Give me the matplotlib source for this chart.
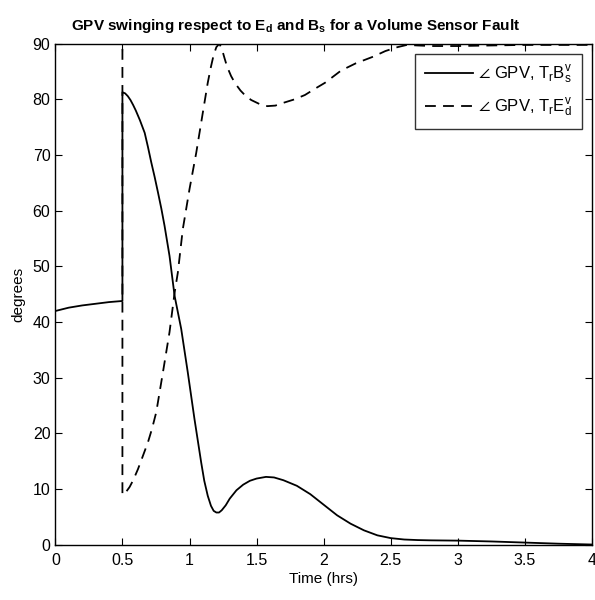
import matplotlib
matplotlib.use("Agg")
import matplotlib.pyplot as plt
import numpy as np

plt.rcParams['font.family'] = ['Liberation Sans', 'DejaVu Sans']
plt.rcParams['mathtext.fontset'] = 'custom'
plt.rcParams['mathtext.rm'] = 'Liberation Sans'
plt.rcParams['mathtext.it'] = 'Liberation Sans'
plt.rcParams['mathtext.bf'] = 'Liberation Sans:bold'
plt.rcParams['mathtext.default'] = 'regular'

# solid: angle GPV vs T_r B_s^v (step at t = 0.5)
t_solid = [0.0, 0.1, 0.2, 0.3, 0.4, 0.5, 0.5, 0.52, 0.54, 0.56, 0.58, 0.6, 0.63, 0.666,
           0.69, 0.715, 0.74, 0.765, 0.79, 0.814, 0.851, 0.889, 0.938, 0.987, 1.037,
           1.087, 1.11, 1.136, 1.16, 1.18, 1.2, 1.22, 1.24, 1.27, 1.3, 1.35, 1.4, 1.45,
           1.5, 1.57, 1.63, 1.7, 1.8, 1.9, 2.0, 2.1, 2.2, 2.3, 2.4, 2.5, 2.6, 2.7,
           2.8, 3.0, 3.25, 3.5, 3.75, 4.0]
gpv_solid = [42.0, 42.6, 43.0, 43.3, 43.6, 43.8, 81.3, 81.1, 80.6, 79.9, 79.0, 78.0, 76.3, 74.0,
             71.5, 68.7, 66.1, 63.3, 60.4, 57.3, 51.9, 44.7, 38.8, 31.0, 22.6,
             14.8, 11.5, 8.8, 7.0, 6.1, 5.8, 5.8, 6.2, 7.1, 8.3, 9.8, 10.8, 11.5,
             11.9, 12.2, 12.1, 11.6, 10.6, 9.1, 7.2, 5.3, 3.8, 2.6, 1.7, 1.2, 0.95, 0.85,
             0.8, 0.75, 0.6, 0.4, 0.2, 0.05]

# dashed: angle GPV vs T_r E_d^v
t_dash = [0.0, 0.5, 0.5, 0.512, 0.53, 0.554, 0.58, 0.616, 0.65, 0.69, 0.72, 0.752, 0.802,
          0.851, 0.889, 0.913, 0.95, 1.0, 1.05, 1.099, 1.136, 1.16, 1.18, 1.2, 1.222,
          1.24, 1.26, 1.28, 1.31, 1.34, 1.38, 1.42, 1.46, 1.52, 1.58, 1.64, 1.7, 1.78,
          1.86, 1.94, 2.01, 2.13, 2.24, 2.37, 2.46, 2.55, 2.62, 2.7, 2.8, 3.0, 3.5, 4.0]
gpv_dash = [90.0, 90.0, 9.0, 9.1, 9.6, 10.4, 11.6, 13.6, 15.8, 18.4, 20.8, 23.8, 31.0,
            38.2, 45.3, 48.9, 56.7, 63.9, 70.4, 77.6, 83.0, 85.9, 88.0, 89.4, 90.0,
            89.2, 87.5, 85.9, 84.2, 82.9, 81.6, 80.6, 79.9, 79.2, 78.8, 78.9, 79.4, 80.0,
            80.8, 82.0, 83.0, 85.2, 86.5, 87.7, 88.7, 89.4, 89.8, 89.7, 89.6, 89.6, 89.8, 89.8]

labels = [r'$\angle$ GPV, T$_r$B$^v_s$', r'$\angle$ GPV, T$_r$E$^v_d$']

fig = plt.figure(figsize=(5.95, 6.0), dpi=100)
ax = fig.add_axes([0.093, 0.092, 0.902, 0.835])

ax.plot(t_solid, gpv_solid, color='black', lw=1.3, label=labels[0])
ax.plot(t_dash, gpv_dash, color='black', lw=1.3, dashes=(6, 4), label=labels[1])

ax.set_xlim(0, 4)
ax.set_ylim(0, 90)
ax.set_xticks(np.arange(0, 4.01, 0.5))
ax.set_xticklabels(['0', '0.5', '1', '1.5', '2', '2.5', '3', '3.5', '4'])
ax.set_yticks(np.arange(0, 91, 10))
ax.tick_params(direction='in', top=True, right=True, labelsize=11.5, length=5, width=0.8)
ax.tick_params(axis='x', pad=6)
for s in ax.spines.values():
    s.set_linewidth(1.0)

ax.set_xlabel('Time (hrs)', fontsize=11, labelpad=3)
ax.set_ylabel('degrees', fontsize=11, labelpad=5)
ax.set_title(r'GPV swinging respect to E$_d$ and B$_s$ for a Volume Sensor Fault',
             fontsize=11, fontweight='bold', pad=10, x=0.447)

leg = ax.legend(loc='upper right', fontsize=12, handlelength=2.9, frameon=True,
                fancybox=False, edgecolor='black', borderaxespad=0.6, handletextpad=0.3,
                labelspacing=0.6, borderpad=0.6)
leg.get_frame().set_linewidth(1.0)

fig.savefig('out.png', dpi=100)
